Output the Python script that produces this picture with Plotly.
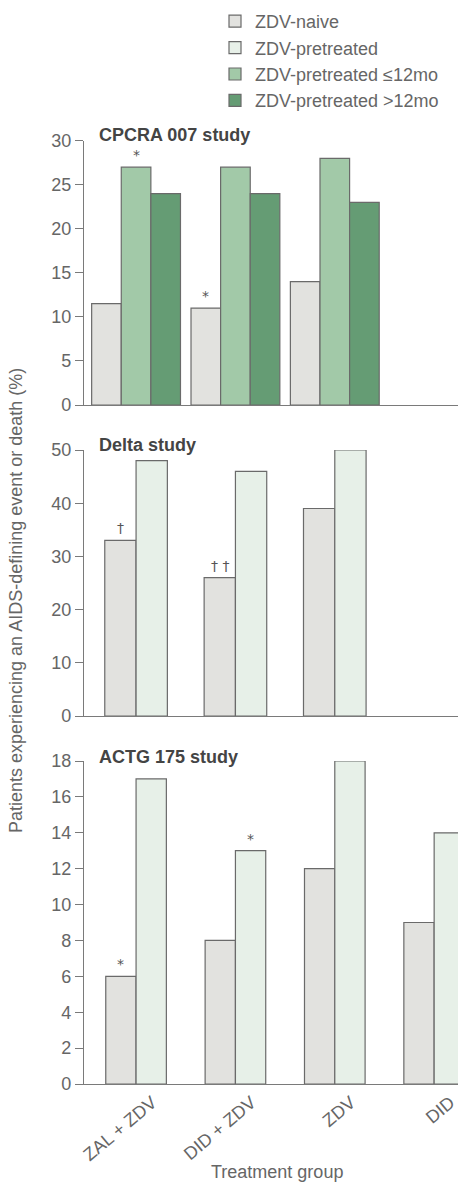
import plotly.graph_objects as go

# ---------------- data ----------------
categories = ["ZAL + ZDV", "DID + ZDV", "ZDV", "DID"]

cpcra_naive = [11.5, 11, 14]
cpcra_le12 = [27, 27, 28]
cpcra_gt12 = [24, 24, 23]

delta_naive = [33, 26, 39]
delta_pre = [48, 46, 50]

actg_naive = [6, 8, 12, 9]
actg_pre = [17, 13, 18, 14]

series_names = ["ZDV-naive", "ZDV-pretreated", "ZDV-pretreated ≤12mo", "ZDV-pretreated >12mo"]
panel_titles = ["CPCRA 007 study", "Delta study", "ACTG 175 study"]

# significance marks: (panel, series, category index, symbol)
marks = [
    (1, "ZDV-pretreated ≤12mo", 0, "*"),
    (1, "ZDV-naive", 1, "*"),
    (2, "ZDV-naive", 0, "†"),
    (2, "ZDV-naive", 1, "† †"),
    (3, "ZDV-naive", 0, "*"),
    (3, "ZDV-pretreated", 1, "*"),
]

# ---------------- styling ----------------
W, H = 458, 1183
FONT = "Liberation Sans, Arial, Helvetica, sans-serif"
colors = {
    "ZDV-naive": "#e2e2df",
    "ZDV-pretreated": "#e7f0e8",
    "ZDV-pretreated ≤12mo": "#a2c9a8",
    "ZDV-pretreated >12mo": "#659c74",
}
outline = "#6a6a6a"
axis_col = "#7a7a7a"
tick_col = "#666666"

def py(px):
    return 1 - px / H

x_dom = [84 / W, 1.0]
y_doms = [[py(405), py(140.7)], [py(716), py(450)], [py(1084), py(761)]]
y_ranges = [[0, 30], [0, 50], [0, 18]]
y_dticks = [5, 10, 2]

panels = [
    {"series": [("ZDV-naive", cpcra_naive), ("ZDV-pretreated ≤12mo", cpcra_le12),
                ("ZDV-pretreated >12mo", cpcra_gt12)], "width": 0.298},
    {"series": [("ZDV-naive", delta_naive), ("ZDV-pretreated", delta_pre)], "width": 0.315},
    {"series": [("ZDV-naive", actg_naive), ("ZDV-pretreated", actg_pre)], "width": 0.305},
]

fig = go.Figure()
shown = set()
offsets_lookup = {}
for pi, panel in enumerate(panels, start=1):
    n = len(panel["series"])
    w = panel["width"]
    for si, (name, vals) in enumerate(panel["series"]):
        off = -n * w / 2 + si * w
        offsets_lookup[(pi, name)] = (off, w, vals)
        fig.add_trace(go.Bar(
            x=categories[:len(vals)], y=vals,
            xaxis="x" if pi == 1 else f"x{pi}",
            yaxis="y" if pi == 1 else f"y{pi}",
            width=w, offset=off,
            marker=dict(color=colors[name], line=dict(color=outline, width=1.2)),
            name=name, legendgroup=name, legendrank=series_names.index(name),
            showlegend=name not in shown,
            hoverinfo="skip",
        ))
        shown.add(name)

layout = dict(
    width=W, height=H,
    margin=dict(l=0, r=0, t=0, b=0),
    paper_bgcolor="white", plot_bgcolor="white",
    barmode="overlay",
    font=dict(family=FONT, size=18, color=tick_col),
    showlegend=True,
    legend=dict(x=215 / W, y=1 - 3 / H, xanchor="left", yanchor="top",
                font=dict(size=18, color="#666666"), tracegroupgap=0,
                bgcolor="rgba(0,0,0,0)"),
)
for pi in range(1, 4):
    xk = "xaxis" if pi == 1 else f"xaxis{pi}"
    yk = "yaxis" if pi == 1 else f"yaxis{pi}"
    layout[xk] = dict(
        domain=x_dom, anchor="y" if pi == 1 else f"y{pi}",
        type="category", categoryorder="array", categoryarray=categories,
        range=[-0.524, 3.24], showline=True, linecolor=axis_col, linewidth=1.3,
        ticks="", showgrid=False, zeroline=False,
        showticklabels=(pi == 3), automargin=False,
    )
    layout[yk] = dict(
        domain=y_doms[pi - 1], anchor="x" if pi == 1 else f"x{pi}",
        range=y_ranges[pi - 1], dtick=y_dticks[pi - 1], tick0=0,
        ticks="outside", ticklen=8, tickcolor=axis_col, tickwidth=1.3,
        showline=True, linecolor=axis_col, linewidth=1.3,
        showgrid=False, zeroline=False, automargin=False,
        tickfont=dict(size=18, color=tick_col),
    )
layout["xaxis3"].update(tickangle=-40, tickfont=dict(size=18, color=tick_col),
                        ticklabelshift=16, ticklabelstandoff=0)
fig.update_layout(**layout)

annotations = []
# panel titles
title_y = [135, 445, 757]
for t, ty in zip(panel_titles, title_y):
    annotations.append(dict(text=f"<b>{t}</b>", xref="paper", yref="paper",
                            x=97 / W, y=py(ty), xanchor="left", yanchor="middle",
                            showarrow=False, font=dict(size=18, color="#444444")))
# significance marks
for pi, name, ci, sym in marks:
    off, w, vals = offsets_lookup[(pi, name)]
    annotations.append(dict(text=sym, x=ci + off + w / 2, y=vals[ci],
                            xref="x" if pi == 1 else f"x{pi}",
                            yref="y" if pi == 1 else f"y{pi}",
                            yanchor="bottom", yshift=2, showarrow=False,
                            font=dict(size=14, color="#555555",
                                      family="DejaVu Sans, Liberation Sans, sans-serif")))
# axis titles
annotations.append(dict(text="Patients experiencing an AIDS-defining event or death (%)",
                        xref="paper", yref="paper", x=16 / W, y=py(601),
                        textangle=-90, showarrow=False, xanchor="center", yanchor="middle",
                        font=dict(size=18, color="#666666")))
annotations.append(dict(text="Treatment group", xref="paper", yref="paper",
                        x=277 / W, y=py(1172), showarrow=False,
                        xanchor="center", yanchor="middle",
                        font=dict(size=18, color="#666666")))
fig.update_layout(annotations=annotations)

fig.write_html("out.html", config={"displayModeBar": False},
               post_script="document.body.style.margin='0';")
